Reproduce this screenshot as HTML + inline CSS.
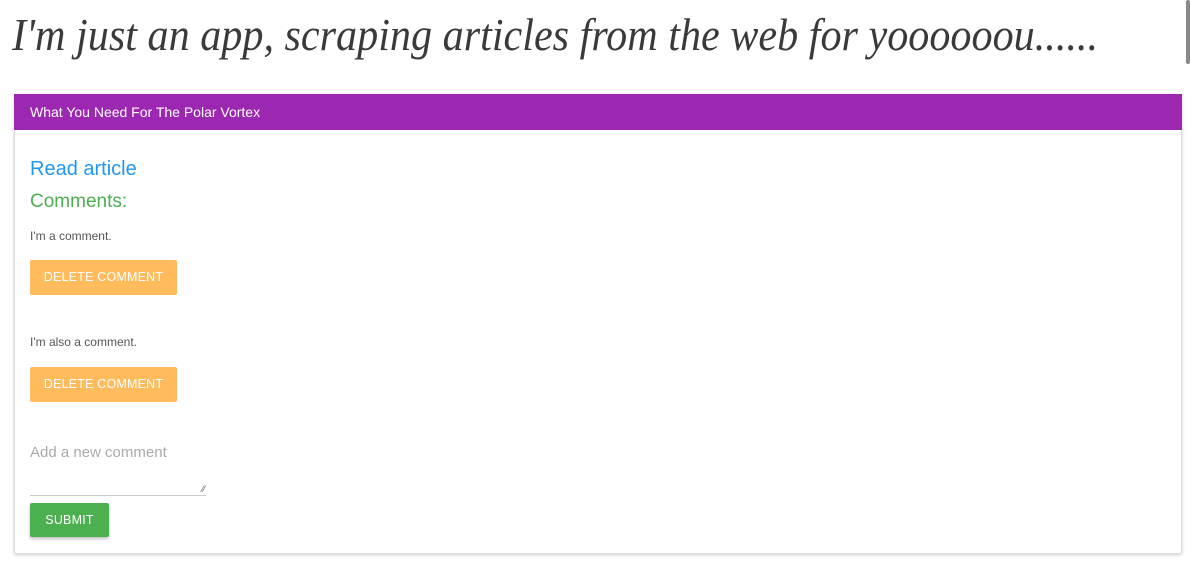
<!DOCTYPE html>
<html><head><meta charset="utf-8">
<style>
body{margin:0;width:1190px;height:571px;background:#fff;font-family:"Liberation Sans",sans-serif;position:relative;overflow:hidden}
.abs{position:absolute}
.card{left:14px;top:94px;width:1168px;height:460px;border:1px solid #ddd;border-radius:2px;box-shadow:0 1px 3px rgba(0,0,0,.2);box-sizing:border-box}
.hdr{left:0;top:0;width:1168px;height:36px;background:#9c27b0;color:#fff;font-size:14px;line-height:36px;padding-left:16px;box-sizing:border-box;margin:-1px}
.btn{border-radius:2px;color:#fff;font-size:12.5px;text-align:center;letter-spacing:.2px}
</style></head><body>
<svg class="abs" style="left:0;top:0" width="1190" height="80">
<text x="12" y="50" textLength="1086" lengthAdjust="spacingAndGlyphs" font-family="Liberation Serif, serif" font-style="italic" font-size="46" fill="#3a3a3a">I'm just an app, scraping articles from the web for yoooooou......</text>
</svg>
<div class="abs" style="left:1186px;top:0;width:4px;height:64px;background:#888;border-radius:2px"></div>
<div class="abs card">
<div class="abs hdr">What You Need For The Polar Vortex</div>
</div>
<div class="abs" style="left:30px;top:158px;font-size:20px;color:#2196f3">Read article</div>
<div class="abs" style="left:30px;top:191px;font-size:19px;color:#4caf50">Comments:</div>
<div class="abs" style="left:30px;top:229px;font-size:12px;color:#555">I'm a comment.</div>
<div class="abs btn" style="left:30px;top:260px;width:147px;height:35px;line-height:35px;background:#ffbb5c">DELETE COMMENT</div>
<div class="abs" style="left:30px;top:335px;font-size:12px;color:#555">I'm also a comment.</div>
<div class="abs btn" style="left:30px;top:367px;width:147px;height:35px;line-height:35px;background:#ffbb5c">DELETE COMMENT</div>
<div class="abs" style="left:30px;top:444px;width:176px;height:51px;border-bottom:1px solid #ccc;font-size:15px;color:#aaa">Add a new comment
<span class="abs" style="right:1px;bottom:1px;font-size:9px;color:#666;line-height:9px">⁄⁄</span></div>
<div class="abs btn" style="left:30px;top:503px;width:79px;height:34px;line-height:34px;background:#4caf50;box-shadow:0 2px 3px rgba(0,0,0,.25)">SUBMIT</div>
</body></html>
